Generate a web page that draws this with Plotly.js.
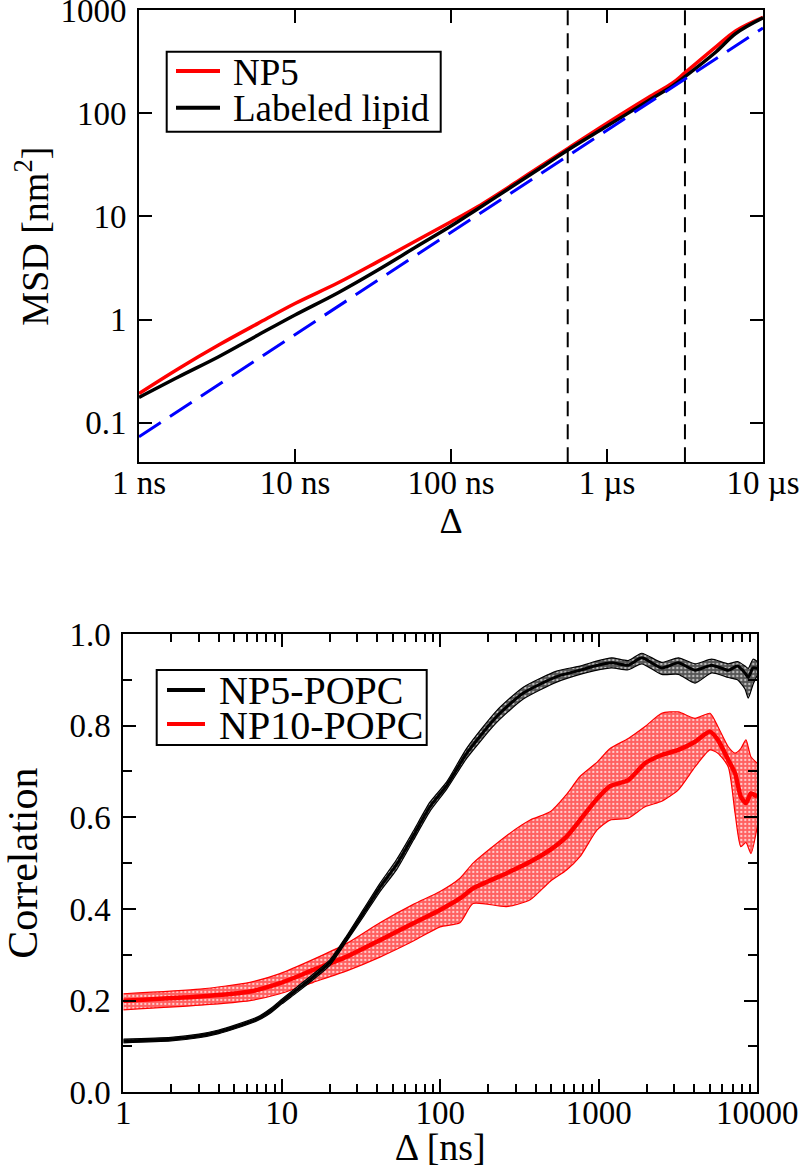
<!DOCTYPE html>
<html>
<head>
<meta charset="utf-8">
<script src="https://cdn.plot.ly/plotly-3.0.1.min.js"></script>
<style>
html,body{margin:0;padding:0;background:#fff;}
#chart{width:803px;height:1168px;}
</style>
</head>
<body>
<div id="chart"></div>
<script>
// ---------- Top panel: MSD vs lag time (ns) ----------
const msdTime = [1, 1.8, 3.24, 5.8, 10, 18.9, 34, 61, 100, 148, 265, 356, 562, 1000, 1841, 2618, 3162, 5012, 6710, 10000];
const msdNP5 = [0.192, 0.336, 0.566, 0.918, 1.43, 2.27, 3.64, 5.9, 8.87, 12.4, 21.7, 29.2, 45.6, 80, 142, 195, 247, 442, 631, 850];
const msdLipid = [0.176, 0.279, 0.436, 0.708, 1.107, 1.82, 3.02, 5.15, 8.05, 11.8, 20.9, 28, 44, 75, 132, 183, 226, 394, 594, 840];
const fitTime = [1, 10000];
const fitMSD = [0.073, 670];
const markerTimes = [560, 3160];
const msdRange = [0.0413, 1000];
const msdTickVals = [1, 10, 100, 1000, 10000];
const msdTickText = ['1 ns', '10 ns', '100 ns', '1 \u00b5s', '10 \u00b5s'];
const msdYTickVals = [0.1, 1, 10, 100, 1000];
const msdYTickText = ['0.1', '1', '10', '100', '1000'];
const msdLegendNames = ['NP5', 'Labeled lipid'];
const msdLegendColors = ['#ff0000', '#000000'];

// ---------- Bottom panel: correlation vs lag time (ns) ----------
const np5Time = [1, 2, 3, 4, 5, 7, 8.5, 10, 12.5, 15.8, 20.1, 25.7, 32.7, 41.6, 53, 67.6, 86, 110, 147, 227, 334, 542, 761, 944, 1206, 1535, 1866, 2494, 3176, 4047, 5155, 6561, 7500, 8360, 8770, 9400, 10000];
const np5Mean = [0.112, 0.116, 0.123, 0.132, 0.142, 0.16, 0.178, 0.198, 0.224, 0.252, 0.283, 0.336, 0.391, 0.447, 0.497, 0.56, 0.623, 0.67, 0.74, 0.82, 0.871, 0.907, 0.921, 0.93, 0.937, 0.932, 0.948, 0.926, 0.937, 0.921, 0.932, 0.921, 0.93, 0.915, 0.905, 0.926, 0.925];
const np5Low = [0.108, 0.112, 0.119, 0.128, 0.138, 0.156, 0.173, 0.193, 0.218, 0.246, 0.277, 0.33, 0.383, 0.438, 0.486, 0.55, 0.613, 0.662, 0.729, 0.807, 0.858, 0.895, 0.912, 0.92, 0.926, 0.922, 0.935, 0.912, 0.912, 0.893, 0.915, 0.905, 0.9, 0.88, 0.86, 0.89, 0.91];
const np5High = [0.116, 0.12, 0.127, 0.136, 0.146, 0.164, 0.183, 0.203, 0.23, 0.258, 0.289, 0.342, 0.399, 0.456, 0.508, 0.57, 0.633, 0.678, 0.751, 0.833, 0.884, 0.919, 0.93, 0.94, 0.948, 0.942, 0.958, 0.938, 0.948, 0.935, 0.945, 0.935, 0.94, 0.93, 0.925, 0.945, 0.94];

const np10Time = [1, 3.05, 6.3, 9.74, 15.8, 25.7, 41.6, 67.6, 99.6, 133, 161, 262, 369, 493, 626, 761, 973, 1178, 1535, 1958, 2494, 3176, 4047, 5030, 5640, 6561, 7240, 7870, 8480, 9120, 10000];
const np10Mean = [0.2, 0.209, 0.22, 0.238, 0.267, 0.296, 0.332, 0.369, 0.398, 0.423, 0.445, 0.478, 0.503, 0.529, 0.558, 0.594, 0.64, 0.668, 0.681, 0.718, 0.736, 0.747, 0.765, 0.787, 0.769, 0.725, 0.696, 0.645, 0.631, 0.652, 0.645];
const np10Low = [0.18, 0.19, 0.2, 0.215, 0.24, 0.265, 0.295, 0.33, 0.361, 0.37, 0.412, 0.405, 0.42, 0.46, 0.485, 0.514, 0.572, 0.594, 0.598, 0.623, 0.635, 0.66, 0.71, 0.747, 0.74, 0.71, 0.609, 0.536, 0.545, 0.521, 0.58];
const np10High = [0.215, 0.225, 0.24, 0.259, 0.29, 0.325, 0.37, 0.41, 0.438, 0.467, 0.5, 0.56, 0.594, 0.612, 0.65, 0.689, 0.72, 0.75, 0.772, 0.798, 0.827, 0.83, 0.816, 0.827, 0.798, 0.754, 0.74, 0.75, 0.769, 0.732, 0.718];

const corrTickVals = [1, 10, 100, 1000, 10000];
const corrTickText = ['1', '10', '100', '1000', '10000'];
const corrMinorVals = [2,3,4,5,6,7,8,9,20,30,40,50,60,70,80,90,200,300,400,500,600,700,800,900,2000,3000,4000,5000,6000,7000,8000,9000];
const corrLegendNames = ['NP5-POPC', 'NP10-POPC'];
const corrLegendColors = ['#000000', '#ff0000'];

const FONT = 'Liberation Serif, Times New Roman, serif';
const W = 803, H = 1168;
const px = v => v / W;          // pixel -> paper x
const py = v => 1 - v / H;      // pixel -> paper y

const traces = [];
markerTimes.forEach(t => traces.push({
  x: [t, t], y: msdRange, xaxis: 'x', yaxis: 'y', mode: 'lines',
  line: {color: 'black', width: 2, dash: '15px,8px'}, showlegend: false, hoverinfo: 'skip'
}));
traces.push({x: msdTime, y: msdNP5, xaxis: 'x', yaxis: 'y', mode: 'lines', name: msdLegendNames[0],
  line: {color: msdLegendColors[0], width: 3.5, shape: 'spline'}, showlegend: false});
traces.push({x: msdTime, y: msdLipid, xaxis: 'x', yaxis: 'y', mode: 'lines', name: msdLegendNames[1],
  line: {color: msdLegendColors[1], width: 3.5, shape: 'spline'}, showlegend: false});
traces.push({x: fitTime, y: fitMSD, xaxis: 'x', yaxis: 'y', mode: 'lines', showlegend: false,
  line: {color: '#0000ff', width: 3, dash: '26px,11px'}});

const sp = {shape: 'spline', smoothing: 0.6};
traces.push({x: np10Time, y: np10Low, xaxis: 'x2', yaxis: 'y2', mode: 'lines', showlegend: false,
  line: Object.assign({color: '#ff0000', width: 1.2}, sp), hoverinfo: 'skip'});
traces.push({x: np10Time, y: np10High, xaxis: 'x2', yaxis: 'y2', mode: 'lines', showlegend: false,
  fill: 'tonexty', fillcolor: '#ff6a6a',
  fillpattern: {shape: '.', bgcolor: '#ff6060', fgcolor: '#ffd0d0', size: 4, solidity: 0.25},
  line: Object.assign({color: '#ff0000', width: 1.2}, sp), hoverinfo: 'skip'});
traces.push({x: np10Time, y: np10Mean, xaxis: 'x2', yaxis: 'y2', mode: 'lines', name: corrLegendNames[1],
  line: Object.assign({color: corrLegendColors[1], width: 4.5}, sp), showlegend: false});
traces.push({x: np5Time, y: np5Low, xaxis: 'x2', yaxis: 'y2', mode: 'lines', showlegend: false,
  line: Object.assign({color: 'black', width: 1.2}, sp), hoverinfo: 'skip'});
traces.push({x: np5Time, y: np5High, xaxis: 'x2', yaxis: 'y2', mode: 'lines', showlegend: false,
  fill: 'tonexty', fillcolor: '#666666',
  fillpattern: {shape: '.', bgcolor: '#555555', fgcolor: '#bbbbbb', size: 4, solidity: 0.3},
  line: Object.assign({color: 'black', width: 1.2}, sp), hoverinfo: 'skip'});
traces.push({x: np5Time, y: np5Mean, xaxis: 'x2', yaxis: 'y2', mode: 'lines', name: corrLegendNames[0],
  line: Object.assign({color: corrLegendColors[0], width: 3}, sp), showlegend: false});

// ---- legends (boxes, line samples and labels) ----
const shapes = [];
const annotations = [];
function addLegend(box, rowsY, sampleX, textX, names, colors, fontSize) {
  shapes.push({type: 'rect', xref: 'paper', yref: 'paper',
    x0: px(box[0]), x1: px(box[1]), y0: py(box[3]), y1: py(box[2]),
    line: {color: 'black', width: 2}, fillcolor: 'white', layer: 'above'});
  names.forEach((n, i) => {
    shapes.push({type: 'line', xref: 'paper', yref: 'paper',
      x0: px(sampleX[0]), x1: px(sampleX[1]), y0: py(rowsY[i]), y1: py(rowsY[i]),
      line: {color: colors[i], width: 4}, layer: 'above'});
    annotations.push({xref: 'paper', yref: 'paper', x: px(textX), y: py(rowsY[i] + 1),
      xanchor: 'left', yanchor: 'middle', showarrow: false, text: n,
      font: {family: FONT, size: fontSize, color: 'black'}});
  });
}
addLegend([166.7, 440.7, 51.7, 131.7], [71, 107.7], [176, 220], 231, msdLegendNames, msdLegendColors, 37);
addLegend([156.7, 426.7, 670, 745], [690, 724], [167, 205], 217, corrLegendNames, corrLegendColors, 40);

const axBase = {
  showline: true, linecolor: 'black', linewidth: 2, mirror: 'ticks',
  ticks: 'inside', tickcolor: 'black', tickwidth: 2, ticklen: 13,
  showgrid: false, zeroline: false, automargin: false, ticklabeloverflow: 'allow',
  tickfont: {family: FONT, size: 33, color: 'black'}
};

const layout = {
  width: W, height: H,
  margin: {l: 0, r: 0, t: 0, b: 0},
  paper_bgcolor: 'white', plot_bgcolor: 'white',
  font: {family: FONT, color: 'black'},
  showlegend: false,
  shapes: shapes,
  annotations: annotations,
  xaxis: Object.assign({}, axBase, {
    type: 'log', domain: [px(139), px(763)], anchor: 'y',
    range: [Math.log10(msdTickVals[0]), Math.log10(msdTickVals[4])],
    tickmode: 'array', tickvals: msdTickVals, ticktext: msdTickText,
    ticklabelstandoff: -10,
    title: {text: '\u0394', font: {family: FONT, size: 36, color: 'black'}, standoff: 0}
  }),
  yaxis: Object.assign({}, axBase, {
    type: 'log', domain: [py(462.3), py(10)], anchor: 'x',
    range: [Math.log10(msdRange[0]), Math.log10(msdRange[1]) + 0.0005],
    tickmode: 'array', tickvals: msdYTickVals, ticktext: msdYTickText,
    ticklabelstandoff: 4,
    title: {text: 'MSD [nm<sup>2</sup>]', font: {family: FONT, size: 38, color: 'black'}, standoff: 0}
  }),
  xaxis2: Object.assign({}, axBase, {
    type: 'log', domain: [px(123.3), px(757.3)], anchor: 'y2',
    range: [Math.log10(corrTickVals[0]), Math.log10(corrTickVals[4])],
    tickmode: 'array', tickvals: corrTickVals, ticktext: corrTickText,
    ticklabelstandoff: -10,
    minor: {tickmode: 'array', tickvals: corrMinorVals, ticks: 'inside', ticklen: 8, tickwidth: 2, tickcolor: 'black', showgrid: false},
    title: {text: '\u0394 [ns]', font: {family: FONT, size: 38, color: 'black'}, standoff: 9}
  }),
  yaxis2: Object.assign({}, axBase, {
    domain: [py(1092.3), py(634)], anchor: 'x2',
    range: [0, 1], tickmode: 'linear', tick0: 0, dtick: 0.2, tickformat: '.1f',
    ticklabelstandoff: 4,
    minor: {dtick: 0.1, ticks: 'inside', ticklen: 9, tickwidth: 2, tickcolor: 'black', showgrid: false},
    title: {text: 'Correlation', font: {family: FONT, size: 42, color: 'black'}, standoff: 22}
  })
};

Plotly.newPlot('chart', traces, layout, {staticPlot: true, displayModeBar: false});
</script>
</body>
</html>
